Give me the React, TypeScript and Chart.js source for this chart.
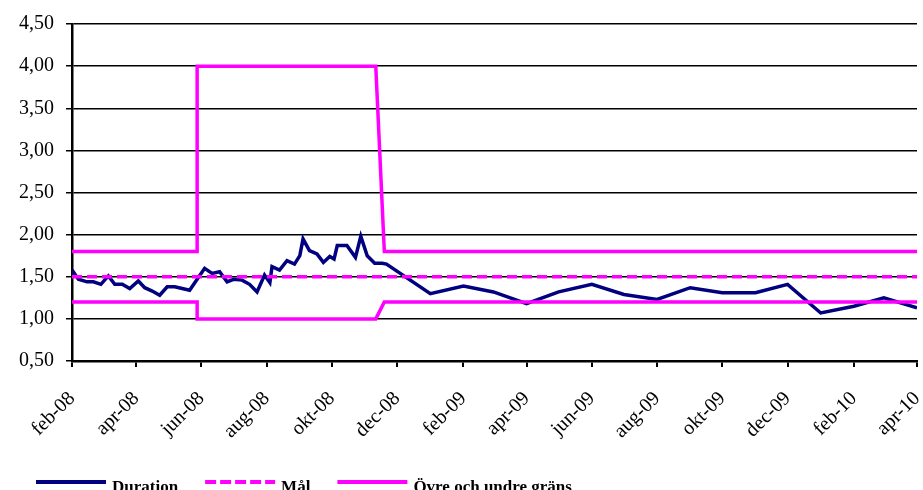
import React, { useEffect, useRef } from "react";
import { Chart, registerables } from "chart.js";

Chart.register(...registerables);

// ---- Data ----
const durationDates = [
  "2008-02-01", "2008-02-07", "2008-02-15", "2008-02-21", "2008-02-28",
  "2008-03-06", "2008-03-12", "2008-03-19", "2008-03-26", "2008-04-03",
  "2008-04-09", "2008-04-16", "2008-04-23", "2008-04-30", "2008-05-07",
  "2008-05-14", "2008-05-21", "2008-05-28", "2008-06-04", "2008-06-11",
  "2008-06-18", "2008-06-25", "2008-07-01", "2008-07-09", "2008-07-16",
  "2008-07-23", "2008-07-30", "2008-08-04", "2008-08-06", "2008-08-13",
  "2008-08-20", "2008-08-27", "2008-09-01", "2008-09-04", "2008-09-10",
  "2008-09-17", "2008-09-23", "2008-09-29", "2008-10-03", "2008-10-06",
  "2008-10-15", "2008-10-23", "2008-10-28", "2008-11-03", "2008-11-10",
  "2008-11-17", "2008-11-21",
  "2009-01-01", "2009-02-01", "2009-03-01", "2009-04-01", "2009-05-01",
  "2009-06-01", "2009-07-01", "2009-08-01", "2009-09-01", "2009-10-01",
  "2009-11-01", "2009-12-01", "2010-01-01", "2010-02-01", "2010-03-01",
  "2010-04-01",
];
const durationValues = [
  1.58, 1.47, 1.44, 1.44, 1.41,
  1.51, 1.41, 1.41, 1.36, 1.45,
  1.37, 1.33, 1.28, 1.38, 1.38,
  1.36, 1.34, 1.47, 1.6, 1.54,
  1.56, 1.44, 1.47, 1.46, 1.41,
  1.32, 1.52, 1.43, 1.62, 1.58,
  1.69, 1.65, 1.75, 1.95, 1.81,
  1.77, 1.67, 1.74, 1.71, 1.87,
  1.87, 1.73, 1.98, 1.75, 1.66,
  1.66, 1.65,
  1.3, 1.39, 1.32, 1.18, 1.32,
  1.41, 1.29, 1.23, 1.37, 1.31,
  1.31, 1.41, 1.07, 1.15, 1.25,
  1.13,
];

const targetDates = ["2008-02-01", "2010-04-01"];
const targetValues = [1.5, 1.5];

const limitDates = ["2008-02-01", "2008-05-28", "2008-05-28", "2008-11-11", "2008-11-19", "2010-04-01"];
const upperValues = [1.8, 1.8, 4.0, 4.0, 1.8, 1.8];
const lowerValues = [1.2, 1.2, 1.0, 1.0, 1.2, 1.2];

const xTickDates = [
  "2008-02-01", "2008-04-01", "2008-06-01", "2008-08-01", "2008-10-01", "2008-12-01",
  "2009-02-01", "2009-04-01", "2009-06-01", "2009-08-01", "2009-10-01", "2009-12-01",
  "2010-02-01", "2010-04-01",
];
const xTickLabels = [
  "feb-08", "apr-08", "jun-08", "aug-08", "okt-08", "dec-08",
  "feb-09", "apr-09", "jun-09", "aug-09", "okt-09", "dec-09",
  "feb-10", "apr-10",
];

const seriesLabels = ["Duration", "Mål", "Övre och undre gräns"];

// ---- Helpers ----
const toDay = (s: string) => {
  const [y, m, d] = s.split("-").map(Number);
  return Date.UTC(y, m - 1, d) / 86400000;
};
const pts = (dates: string[], vals: number[]) => dates.map((d, i) => ({ x: toDay(d), y: vals[i] }));

const NAVY = "#000080";
const MAGENTA = "#FF00FF";
const FONT = '"Liberation Serif", "Times New Roman", serif';

const legendPlugin = {
  id: "customLegend",
  afterDraw(chart: any) {
    const ctx = chart.ctx as CanvasRenderingContext2D;
    const items = chart.data.datasets.filter((ds: any) => ds.showInLegend !== false);
    let x = 36;
    const y = chart.height - 8;
    ctx.save();
    ctx.font = `bold 17px ${FONT}`;
    items.forEach((ds: any) => {
      ctx.beginPath();
      ctx.setLineDash(ds.legendDash || []);
      ctx.strokeStyle = ds.borderColor;
      ctx.lineWidth = 4;
      ctx.moveTo(x, y);
      ctx.lineTo(x + 70, y);
      ctx.stroke();
      x += 76;
      ctx.setLineDash([]);
      ctx.fillStyle = "#000";
      ctx.textBaseline = "alphabetic";
      ctx.textAlign = "left";
      ctx.fillText(ds.label, x, y + 10);
      x += ctx.measureText(ds.label).width + 27;
    });
    ctx.restore();
  },
};

export default function App() {
  const ref = useRef<HTMLCanvasElement>(null);

  useEffect(() => {
    document.body.style.margin = "0";
    if (!ref.current) return;
    Chart.defaults.font.family = FONT;
    const chart = new Chart(ref.current, {
      type: "line",
      data: {
        datasets: [
          {
            label: seriesLabels[0],
            data: pts(durationDates, durationValues),
            borderColor: NAVY,
            backgroundColor: NAVY,
            borderWidth: 3.5,
            pointRadius: 0,
            tension: 0,
            order: 3,
          } as any,
          {
            label: seriesLabels[1],
            data: pts(targetDates, targetValues),
            borderColor: MAGENTA,
            backgroundColor: MAGENTA,
            borderWidth: 3.5,
            borderDash: [10, 5],
            legendDash: [11, 4],
            pointRadius: 0,
            order: 2,
          },
          {
            label: seriesLabels[2],
            data: pts(limitDates, upperValues),
            borderColor: MAGENTA,
            backgroundColor: MAGENTA,
            borderWidth: 3.5,
            pointRadius: 0,
            tension: 0,
            order: 1,
          },
          {
            label: seriesLabels[2],
            data: pts(limitDates, lowerValues),
            borderColor: MAGENTA,
            backgroundColor: MAGENTA,
            borderWidth: 3.5,
            pointRadius: 0,
            tension: 0,
            order: 1,
            showInLegend: false,
          },
        ],
      },
      options: {
        responsive: true,
        maintainAspectRatio: false,
        animation: false,
        layout: { padding: { top: 20, right: 6, left: 0, bottom: 0 } },
        plugins: {
          legend: { display: false },
          tooltip: { enabled: false },
        },
        scales: {
          x: {
            type: "linear",
            min: toDay(xTickDates[0]),
            max: toDay(xTickDates[xTickDates.length - 1]),
            afterBuildTicks: (scale: any) => {
              scale.ticks = xTickDates.map((d) => ({ value: toDay(d) }));
            },
            afterFit: (scale: any) => {
              scale.height = 129;
              scale.paddingRight = 0;
              scale.paddingLeft = 0;
            },
            grid: {
              display: true,
              drawOnChartArea: false,
              drawTicks: true,
              tickLength: 6,
              color: "#000",
              lineWidth: 2,
            },
            border: { display: true, color: "#000", width: 2.5 },
            ticks: {
              autoSkip: false,
              maxRotation: 45,
              minRotation: 45,
              padding: 20,
              color: "#000",
              font: { size: 20, family: FONT },
              callback: (_v: any, i: number) => xTickLabels[i],
            },
          },
          y: {
            min: 0.5,
            max: 4.5,
            afterFit: (scale: any) => {
              scale.width = 72;
            },
            grid: { color: "#000", lineWidth: 1.5, tickLength: 6 },
            border: { display: true, color: "#000", width: 2.5 },
            ticks: {
              stepSize: 0.5,
              padding: 12,
              color: "#000",
              font: { size: 20, family: FONT },
              callback: (v: any) => Number(v).toFixed(2).replace(".", ","),
            },
          },
        },
      },
      plugins: [legendPlugin],
    });
    return () => chart.destroy();
  }, []);

  return (
    <div style={{ width: 923, height: 490, position: "relative" }}>
      <canvas ref={ref} />
    </div>
  );
}
